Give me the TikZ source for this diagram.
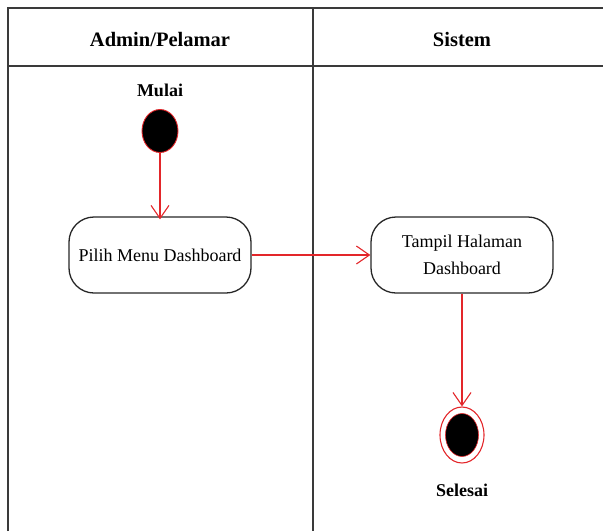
\documentclass[tikz,border=0pt]{standalone}
\usepackage{fontspec}
\setmainfont{Liberation Serif}
\usepackage{tikz}
\usetikzlibrary{arrows.meta,positioning,shapes.geometric}
\definecolor{flowred}{HTML}{E3262A}
\definecolor{lanegray}{HTML}{3A3A3A}
\tikzset{
  lane/.style={draw=lanegray, line width=1.8pt},
  hdr/.style={font=\bfseries\fontsize{20.5}{24}\selectfont},
  lbl/.style={font=\bfseries\fontsize{18}{22}\selectfont},
  act/.style={draw=black!85, line width=1.3pt, rounded corners=25pt,
    minimum width=182pt, minimum height=76pt, align=center,
    font=\fontsize{18}{27}\selectfont},
  initnode/.style={ellipse, draw=flowred, fill=black, line width=0.9pt,
    minimum width=36pt, minimum height=43pt, inner sep=0pt},
  endring/.style={ellipse, draw=flowred, line width=1.1pt,
    minimum width=44pt, minimum height=56pt, inner sep=0pt},
  endcore/.style={ellipse, draw=flowred, fill=black, line width=0.6pt,
    minimum width=33pt, minimum height=43pt, inner sep=0pt},
  flow/.style={-{Straight Barb[length=13pt, width=18pt, line width=1.1pt]},
    draw=flowred, line width=1.1pt}
}

\begin{document}
\begin{tikzpicture}[x=1pt, y=-1pt]
  \useasboundingbox (0,0) rectangle (603,531);

  % swimlanes
  \draw[lane] (8,531) -- (8,8) -- (603,8);
  \draw[lane] (8,66) -- (603,66);
  \draw[lane] (313,8) -- (313,531);
  \node[hdr] (hdrA) at (160,39) {Admin/Pelamar};
  \node[hdr] (hdrS) at (462,39) {Sistem};

  % activity nodes
  \node[initnode] (mulai) at (160,131) {};
  \node[lbl, above=9pt of mulai] (mulaiLbl) {Mulai};
  \node[act] (pilih) at (160,255) {Pilih Menu Dashboard};
  \node[act] (tampil) at (462,255) {Tampil Halaman\\Dashboard};
  \node[endring] (selesai) at (462,435) {};
  \node[endcore] (selesaiIn) at (selesai) {};
  \node[lbl, below=17pt of selesai] (selesaiLbl) {Selesai};

  \draw[flow] (mulai.south) -- ([yshift=-3pt]pilih.north);
  \draw[flow] (pilih.east) -- (tampil.west);
  \draw[flow] (tampil.south) -- (selesai.north);
\end{tikzpicture}
\end{document}
